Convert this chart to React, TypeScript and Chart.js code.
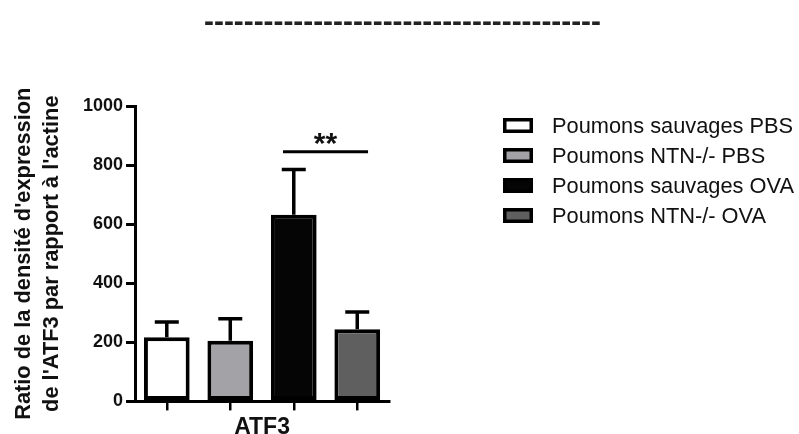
import React, { useEffect, useRef } from "react";
import { Chart, registerables } from "chart.js";

Chart.register(...registerables);

const groups = [
  "Poumons sauvages PBS",
  "Poumons NTN-/- PBS",
  "Poumons sauvages OVA",
  "Poumons NTN-/- OVA",
];
const means = [217, 205, 632, 244];
const errors = [52, 75, 153, 59];
const fills = ["#ffffff", "#a2a2a7", "#050505", "#5f5f5f"];
const yTicks = [0, 200, 400, 600, 800, 1000];
const geneLabel = "ATF3";
const yTitle = ["Ratio de la densité d'expression", "de l'ATF3 par rapport à l'actine"];
const topTitle = "----------------------------------------";
const sigFrom = 2;
const sigTo = 3;
const sigLevel = 845;
const sigText = "**";

const FONT = "'Liberation Sans', Arial, sans-serif";

const titlePlugin = {
  id: "topTitle",
  afterDraw(chart: any) {
    const ctx = chart.ctx;
    ctx.save();
    ctx.fillStyle = "#222";
    ctx.font = `bold 29.8px ${FONT}`;
    ctx.textAlign = "center";
    ctx.textBaseline = "alphabetic";
    ctx.fillText(topTitle, chart.width / 2 + 3, 30.5);
    ctx.restore();
  },
};

const errorBarPlugin = {
  id: "errorBars",
  afterDatasetsDraw(chart: any) {
    const ctx = chart.ctx;
    const y = chart.scales.y;
    ctx.save();
    ctx.strokeStyle = "#000";
    ctx.lineWidth = 3.5;
    chart.data.datasets.forEach((ds: any, di: number) => {
      const meta = chart.getDatasetMeta(di);
      meta.data.forEach((el: any, i: number) => {
        const v = ds.data[i];
        if (v === null || v === undefined) return;
        const err = errors[di];
        const top = y.getPixelForValue(v + err);
        const cx = el.x;
        ctx.beginPath();
        ctx.moveTo(cx, el.y);
        ctx.lineTo(cx, top);
        ctx.moveTo(cx - 12, top);
        ctx.lineTo(cx + 12, top);
        ctx.stroke();
      });
    });
    const x = chart.scales.x;
    const x1 = x.getPixelForValue(sigFrom - 0.17);
    const x2 = x.getPixelForValue(sigTo + 0.17);
    const ly = y.getPixelForValue(sigLevel);
    ctx.lineWidth = 3;
    ctx.beginPath();
    ctx.moveTo(x1, ly);
    ctx.lineTo(x2, ly);
    ctx.stroke();
    ctx.fillStyle = "#111";
    ctx.font = `bold 30px ${FONT}`;
    ctx.textAlign = "center";
    ctx.textBaseline = "alphabetic";
    ctx.fillText(sigText, (x1 + x2) / 2, ly + 1);
    ctx.restore();
  },
};

const legendPlugin = {
  id: "customLegend",
  afterDraw(chart: any) {
    const ctx = chart.ctx;
    const area = chart.chartArea;
    const bx = area.right + 114;
    const y0 = 125.5;
    const step = 30;
    ctx.save();
    chart.data.datasets.forEach((ds: any, i: number) => {
      const cy = y0 + i * step;
      ctx.fillStyle = ds.backgroundColor;
      ctx.fillRect(bx, cy - 7.5, 30, 15);
      ctx.strokeStyle = "#000";
      ctx.lineWidth = 3.5;
      ctx.strokeRect(bx + 1.75, cy - 7.5 + 1.75, 30 - 3.5, 15 - 3.5);
      ctx.fillStyle = "#111";
      ctx.font = `21.8px ${FONT}`;
      ctx.textAlign = "left";
      ctx.textBaseline = "middle";
      ctx.fillText(ds.label, bx + 49, cy + 1);
    });
    ctx.restore();
  },
};

export default function App() {
  const ref = useRef<HTMLCanvasElement | null>(null);
  useEffect(() => {
    if (!ref.current) return;
    const datasets = groups.map((g, i) => ({
      label: g,
      data: groups.map((_, j) => (j === i ? means[i] : null)),
      backgroundColor: fills[i],
      borderColor: "#000",
      borderWidth: 4,
      borderSkipped: false as any,
      grouped: false,
      barPercentage: 0.72,
      categoryPercentage: 1,
    }));
    const chart = new Chart(ref.current, {
      type: "bar",
      data: { labels: groups, datasets },
      options: {
        responsive: false,
        animation: false,
        layout: { padding: { left: 0, right: 410, top: 106, bottom: 0 } },
        plugins: {
          legend: { display: false },
          tooltip: { enabled: false },
          title: { display: false },
        },
        scales: {
          x: {
            ticks: { display: false },
            grid: {
              offset: false,
              drawOnChartArea: false,
              color: "#000",
              lineWidth: 2.5,
              tickLength: 9,
            },
            border: { color: "#000", width: 3 },
            title: {
              display: true,
              text: geneLabel,
              color: "#111",
              font: { family: FONT, size: 23, weight: "bold", lineHeight: 1.2 },
              padding: { top: 3, bottom: 0 },
            },
          },
          y: {
            min: 0,
            max: 1000,
            afterBuildTicks: (axis: any) => {
              axis.ticks = yTicks.map((v) => ({ value: v }));
            },
            ticks: {
              color: "#111",
              padding: 3,
              font: { family: FONT, size: 18, weight: "bold" },
              callback: (v: any) => String(v),
            },
            grid: {
              drawOnChartArea: false,
              color: "#000",
              lineWidth: 3,
              tickLength: 9,
            },
            border: { color: "#000", width: 3 },
            title: {
              display: true,
              text: yTitle,
              color: "#111",
              font: { family: FONT, size: 21.8, weight: "bold", lineHeight: 28 / 21.8 },
              padding: { top: 10, bottom: 14 },
            },
          },
        },
      },
      plugins: [titlePlugin, errorBarPlugin, legendPlugin],
    });
    return () => chart.destroy();
  }, []);
  return (
    <div
      style={{
        position: "fixed",
        left: 0,
        top: 0,
        width: 799,
        height: 434,
        overflow: "hidden",
        background: "#fff",
      }}
    >
      <canvas ref={ref} width={799} height={441} style={{ display: "block" }} />
    </div>
  );
}
